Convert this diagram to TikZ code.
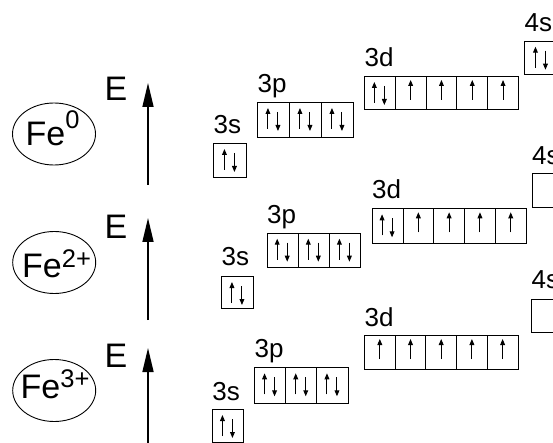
\documentclass[tikz,border=0pt]{standalone}
\usepackage{fontspec}
\setmainfont{Liberation Sans}
\usetikzlibrary{arrows.meta,calc,shapes.geometric}
\tikzset{
 orb/.style={draw, line width=0.9pt, inner sep=0pt, rectangle},
 el/.style={line width=0.95pt, -{Triangle[width=4.8pt,length=6pt]}},
 lbl/.style={anchor=base west, inner sep=0pt, font=\fontsize{26}{26}\selectfont},
 elab/.style={anchor=base west, inner sep=0pt, font=\fontsize{34}{34}\selectfont},
 ionlab/.style={anchor=base west, inner sep=0pt, font=\fontsize{34}{34}\selectfont},
 ion/.style={draw, ellipse, line width=0.9pt, minimum width=83pt, minimum height=62pt, inner sep=0pt},
 earrow/.style={line width=1.6pt, -{Triangle[width=11pt,length=24pt]}},
}
\newcommand\supx[2]{\raisebox{#1pt}{\fontsize{25.5}{25.5}\selectfont #2}}
% name, x, y, w, h, kind (0 empty, 1 up, 2 pair)
\newcommand\obox[6]{%
 \node[orb, minimum width=#4pt, minimum height=#5pt, anchor=north west] (#1) at (#2,#3) {};
 \ifcase#6\relax
 \or
   \draw[el] ($(#1.north)+(0,24)$) -- ($(#1.north)+(0,4)$);
 \or
   \draw[el] ($(#1.north)+(-5.5,27)$) -- ($(#1.north)+(-5.5,6)$);
   \draw[el] ($(#1.north)+(4.5,10)$) -- ($(#1.north)+(4.5,29)$);
 \fi}
\begin{document}
\begin{tikzpicture}[x=1pt,y=-1pt]
\path[use as bounding box, clip] (0,0) rectangle (553,443);

% ---- ions ----
\node[ion] (ionA) at (54,134) {};
\node[ionlab] (tA) at (25.5,145.5) {Fe\supx{17}{0}};
\node[ion] (ionB) at (54.2,262.5) {};
\node[ionlab] (tB) at (22,277.3) {Fe\supx{10}{2+}};
\node[ion] (ionC) at (54.2,390.5) {};
\node[ionlab] (tC) at (20.5,398) {Fe\supx{11}{3+}};

% ---- energy arrows ----
\node[elab] (eA) at (104.5,101) {E};
\node[elab] (eB) at (104.5,239) {E};
\node[elab] (eC) at (104.5,367) {E};
\coordinate (aA0) at (148,185); \coordinate (aA1) at (148,83);
\coordinate (aB0) at (148,320); \coordinate (aB1) at (148,218);
\coordinate (aC0) at (148,445); \coordinate (aC1) at (148,348);
\draw[earrow] (aA0) -- (aA1);
\draw[earrow] (aB0) -- (aB1);
\draw[earrow] (aC0) -- (aC1);

% ---- Fe0 ----
\node[lbl] (lsA) at (213.5,134) {3s};
\obox{sA}{213}{143}{33}{34}{2}
\node[lbl] (lpA) at (257.5,93) {3p};
\foreach \i in {0,1,2} {\obox{pA\i}{257+32*\i}{102}{32}{35}{2}}
\node[lbl] (ldA) at (364.5,67) {3d};
\foreach \i/\k in {0/2,1/1,2/1,3/1,4/1} {\obox{dA\i}{364+30.8*\i}{76}{30.8}{33}{\k}}
\node[lbl] (l4A) at (524.5,32) {4s};
\obox{fA}{524}{40.7}{33}{33.3}{2}

% ---- Fe2+ ----
\node[lbl] (lsB) at (221.5,265.5) {3s};
\obox{sB}{221}{276}{32}{32}{2}
\node[lbl] (lpB) at (267,223.5) {3p};
\foreach \i in {0,1,2} {\obox{pB\i}{266.7+31.1*\i}{232.7}{31.1}{34}{2}}
\node[lbl] (ldB) at (372,198.5) {3d};
\foreach \i/\k in {0/2,1/1,2/1,3/1,4/1} {\obox{dB\i}{371.7+30.8*\i}{208.3}{30.8}{35}{\k}}
\node[lbl] (l4B) at (532,165) {4s};
\obox{fB}{531.7}{173.3}{33}{33.4}{0}

% ---- Fe3+ ----
\node[lbl] (lsC) at (212.2,400) {3s};
\obox{sC}{211.7}{409}{31.6}{33}{2}
\node[lbl] (lpC) at (254.5,357.5) {3p};
\foreach \i in {0,1,2} {\obox{pC\i}{254+31.2*\i}{367.3}{31.2}{35.4}{2}}
\node[lbl] (ldC) at (364.5,326.5) {3d};
\foreach \i in {0,1,2,3,4} {\obox{dC\i}{364+30.7*\i}{335}{30.7}{34}{1}}
\node[lbl] (l4C) at (531.5,288.5) {4s};
\obox{fC}{531}{299}{33}{32.7}{0}
\end{tikzpicture}
\end{document}
